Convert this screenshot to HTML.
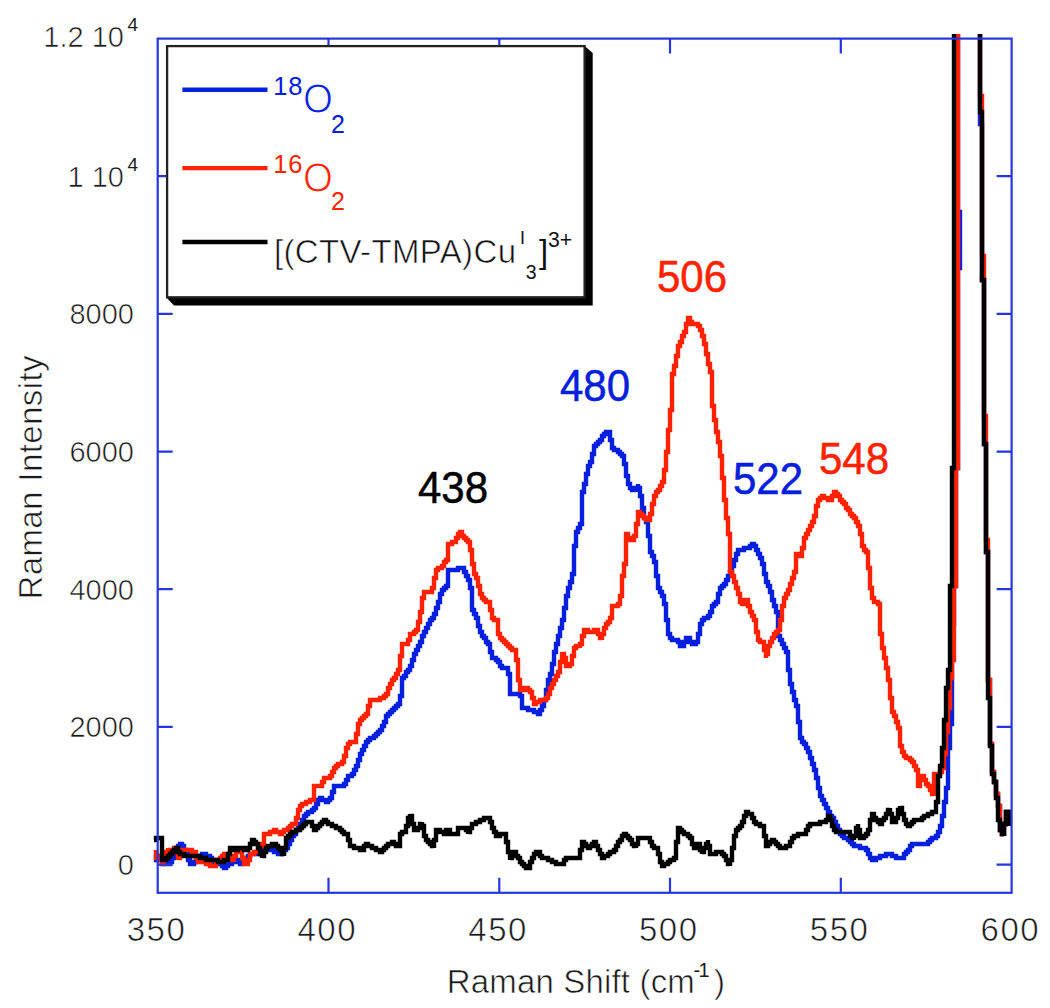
<!DOCTYPE html>
<html><head><meta charset="utf-8"><style>
html,body{margin:0;padding:0;background:#fff;}
body{width:1050px;height:1008px;overflow:hidden;}
svg{display:block;}
text{font-family:"Liberation Sans",sans-serif;}
.tl{font-size:29px;fill:#1a1a1a;stroke:#fff;stroke-width:0.6px;}
.er{stroke:#fff;stroke-width:0.6px;}
.tls{font-size:19px;fill:#1a1a1a;}
.xl{font-size:33px;fill:#1a1a1a;letter-spacing:1.5px;stroke:#fff;stroke-width:0.6px;}
.ann{font-size:42px;stroke-width:0.5px;}
</style></head><body>
<svg width="1050" height="1008" viewBox="0 0 1050 1008">
<rect width="1050" height="1008" fill="#fff"/>
<defs><clipPath id="pc"><rect x="150" y="34" width="862" height="860"/></clipPath></defs>
<g fill="none" stroke-width="4.4" stroke-linejoin="miter" stroke-linecap="butt" clip-path="url(#pc)">
<path d="M156 854V856V858V860H158V858V856H160V854V856V858H162V860V862V864H164H166H168H170V862H172V860V858H174V856V854H176V852V850H178V848V846H180V844H182V846H184V848V850H186V852V854H188V856V858V860H190V862V864H192V866V864H194V862H196V860H198V858H200V856H202V854H204H206V856H208H210V858H212V860H214V862H216H218V864H220H222V866H224V868H226V866H228V864H230H232V862H234H236V860H238V862H240V864H242V862H244V860H246V858H248V856H250V854H252H254H256H258H260V852H262H264V850H266H268V848H270V850H272H274V852H276H278V854H280H282V852H284V850H286V848H288V846V844H290V842V840H292V838V836H294V834H296V832V830H298V828V826H300V824H302V822V820H304V818V816H306V814H308V812H310H312V810H314V808H316V806V804H318V802V800H320V798H322V800H324H326V802H328V800H330V798H332V796V794V792H334V790V788V786H336H338H340H342H344V784H346V782V780H348V778V776H350H352V774H354V772V770H356V768V766H358V764V762V760H360V758V756V754H362V752V750H364V748V746H366V744V742H368V740H370V738H372H374V736H376V734H378V732H380V730H382V728V726H384V724V722H386V720V718V716H388V714H390V712H392V710H394V708H396V706H398V704H400V702V700V698V696H402V694V692V690V688V686V684V682V680V678H404V676H406V674V672H408V670H410V668V666H412V664V662V660H414V658V656V654H416V652V650H418V648V646H420V644V642H422V640V638V636H424V634V632H426V630V628H428V626V624H430V622V620H432V618H434V616V614H436V612V610V608H438V606V604V602H440V600V598V596V594H442V592V590H444V588H446V586H448V584V582V580V578V576V574V572V570H450H452H454H456H458V568H460H462H464V570V572H466V574V576H468V578V580H470V582V584V586V588H472V590V592V594V596V598V600V602V604V606V608V610H474V612V614H476V616V618H478V620V622V624V626H480V628V630V632H482V634V636H484V638H486V640V642H488V644H490V646V648V650V652H492V654V656V658H494H496V660H498V662H500V664V666H502V668H504H506H508V670V672V674H510V676V678V680V682V684V686V688V690V692V694H512H514H516H518H520V696H522V698V700V702V704V706V708H524H526H528V710H530H532H534V712H536H538V714H540V712V710H542V708V706H544V704V702V700H546V698V696V694V692V690H548V688V686V684V682V680H550V678V676V674H552V672V670V668V666V664H554V662V660V658V656V654V652H556V650V648V646V644H558V642V640V638V636H560V634V632V630V628H562V626V624V622V620H564V618V616V614V612V610V608H566V606V604V602V600V598V596H568V594V592V590V588H570V586V584V582H572V580V578V576V574H574V572V570V568V566V564V562V560V558V556V554V552V550V548V546H576V544V542V540V538V536V534V532H578V530V528H580V526V524H582V522V520V518V516V514V512V510V508V506V504V502V500V498V496V494V492H584V490V488V486V484H586V482V480V478V476V474H588V472V470V468V466H590V464V462H592V460V458V456V454H594V452V450V448V446H596V444H598V442H600V440H602V438V436H604V434H606V432H608H610V434V436V438V440H612V442V444V446V448H614V450H616H618V452H620V454H622V456H624V458V460V462V464H626V466V468V470V472V474V476H628V478V480V482V484H630V486V488H632V490H634H636V492V490V488H638V486V484V486V488H640V490V492V494V496H642V498V500V502V504V506V508H644V510V512V514V516V518H646V520V522H648V524V526V528V530V532V534V536H650V538V540V542V544V546V548V550V552H652V554V556H654V558V560V562H656V564V566V568V570V572V574V576H658V578V580V582V584V586V588H660V590V592H662V594V596H664V598V600V602V604H666V606V608V610V612V614V616V618V620H668V622V624V626V628V630V632V634H670V636V638H672V640H674H676H678V642H680V644V646H682V648V646H684V644V642H686V640V638H688V636V638H690V640V642H692V644H694H696V642H698V640V638V636V634H700V632V630V628V626V624H702V622V620H704V618H706H708V616H710V614V612H712V610V608V606H714V604H716V602H718V600V598V596V594H720V592V590V588H722V586H724V584H726V582V580H728V578V576H730V574V572H732V570V568V566H734V564V562V560H736V558V556V554H738V552V550H740H742H744V548H746H748H750V546H752V544H754V546H756V548V550H758V552V554H760V556V558H762V560V562V564H764V566V568V570V572V574H766V576V578V580V582H768V584V586H770V588V590V592H772V594V596V598V600H774V602V604V606H776V608V610V612H778V614V616V618V620V622V624V626V628V630V632V634V636H780V638V640H782V642V644H784V646V648H786V650V652H788V654V656V658V660V662V664V666V668V670H790V672V674V676V678V680V682V684H792V686V688V690V692H794V694V696V698V700H796V702V704V706H798V708V710V712V714V716V718V720V722H800V724V726V728V730V732V734V736V738H802V740V742H804V744H806V746V748H808V750V752H810V754V756V758H812V760V762V764H814V766V768V770H816V772V774V776V778H818V780V782V784V786V788H820V790V792V794V796H822V798V800H824V802V804H826V806V808H828V810V812H830V814V816H832V818H834V820V822H836V824V826H838V828V830H840V832V834H842V836H844V838H846H848V840H850V842H852V844H854V846H856H858H860V848H862H864H866V850H868V852V854H870V856V858H872V860H874H876V858H878H880V856H882H884H886V854H888H890H892V856H894H896V858H898H900H902H904V856V854H906V852H908V850H910V848V846H912V844H914H916H918H920H922H924H926H928V842H930V840H932V838H934H936V836H938V834V832H940V830V828V826H942V824V822V820V818V816H944V814V812V810V808V806V804V802H946V800V798V796V794V792V790V788H948V786V784V782V780V778V776V774V772V770V768V766V764V762V760V758V756V754V752V750V748H950V746V744V742V740V738V736V734V732V730V728V726V724H952V722V720V718V716V714V712V710V708V706V704V702V700V698V696V694V692V690V688V686V684V682V680V678V676V674V672V670V668V666V664V662V660V658V656V654V652V650V648V646V644V642V640V638V636V634V632V630V628V626V624H954V622V620V618V616V614V612V610V608V606V604V602V600V598V596V594V592V590V588V586H956V584V582V580V578V576V574V572V570V568V566V564V562V560V558V556V554V552V550V548V546V544V542V540V538V536V534V532V530V528V526V524V522V520V518V516V514V512V510V508V506V504V502V500V498V496V494V492V490V488V486V484V482V480V478V476V474V472V470V468H958V466V464V462V460V458V456V454V452V450V448V446V444V442V440V438V436V434V432V430V428V426V424V422V420V418V416V414V412V410V408V406V404V402V400V398V396V394V392V390V388V386V384V382V380V378V376V374V372V370V368V366V364V362V360V358V356V354V352V350V348V346V344V342V340V338V336V334V332V330V328V326V324V322V320V318V316V314V312V310V308V306V304V302V300V298V296V294V292V290V288V286V284V282V280V278V276V274V272V270V268H960V266V264V262V260V258V256V254V252V250V248V246V244V242V240V238V236V234V232V230V228V226V224V222V220V218V216V214V212H958V210V208V206V204V202V200V198V196V194V192V190V188V186V184V182V180V178V176V174V172V170V168V166V164V162V160V158V156V154V152V150V148V146V144V142V140V138V136V134V132V130V128V126V124V122V120V118V116V114V112V110V108V106V104V102V100V98V96V94V92V90V88V86V84V82V80V78V76V74V72V70V68V66V64V62V60V58V56V54V52V50V48V46V44V42V40V38V36V34V32V30H960H962H964H966H968H970H972H974H976H978H980V32V34V36V38V40V42V44V46V48V50V52V54V56V58V60V62V64V66V68V70V72V74V76V78V80V82V84V86V88V90V92V94V96V98V100V102V104V106V108V110V112V114V116V118V120V122V124H982V126V128V130V132V134V136V138V140V142V144V146V148V150V152V154V156V158V160V162V164V166V168V170V172V174V176V178V180V182V184V186V188V190V192V194V196V198V200V202V204V206V208V210V212V214V216V218V220V222V224V226V228V230V232V234V236V238V240V242V244V246V248V250V252V254V256V258V260V262V264V266V268V270V272V274V276V278V280H984V282V284V286V288V290V292V294V296V298V300V302V304V306V308V310V312V314V316V318V320V322V324V326V328V330V332V334V336V338V340V342V344V346V348V350V352V354V356V358V360V362V364V366V368V370V372V374V376V378V380V382V384V386V388V390V392V394V396V398V400V402V404V406V408V410V412V414V416V418V420V422V424V426V428V430V432V434V436V438V440V442V444H986V446V448V450V452V454V456V458V460V462V464V466V468V470V472V474V476V478V480V482V484V486V488V490V492V494V496V498V500V502V504V506V508V510V512V514V516V518V520V522V524V526V528V530V532V534V536V538V540V542V544V546V548V550V552H988V554V556V558V560V562V564V566V568V570V572V574V576V578V580V582V584V586V588V590V592V594V596V598V600V602V604V606V608V610V612V614V616V618V620V622V624V626V628V630V632V634V636V638V640V642V644V646V648V650V652V654V656V658V660V662V664V666V668V670V672V674V676V678V680H990V682V684V686V688V690V692V694V696V698V700V702V704V706V708V710V712V714V716V718V720V722V724V726V728V730V732V734V736V738V740V742V744H992V746V748V750V752V754V756V758V760V762V764V766V768V770V772H994V774V776V778V780V782H996V784V786V788V790V792V794H998V796V798V800V802V804V806H1000V808V810V812V814V816V818V820V822V824V826V828V830H1002V832V834H1004V836V834V832V830V828V826V824H1006V822V820V818V816V814V812H1008H1010V814V816V818V820V822V824V826" stroke="#0520dc"/>
<path d="M156 850V852V854V856V858H158V856H160V854V856V858V860H162V862V864V866V864H164V862V860V858H166V856V854V852H168V850V848V850H170V852V854H172V852V850H174V848H176V846V848V850V852H178V854V856V858V860V858H180V856V854H182V852V850H184H186H188H190H192V852H194H196V854V856V858H198V860V862H200H202H204H206V864H208H210V866H212H214V868V866H216V864V862H218V860H220V858H222V856H224V854H226H228V852V854V856H230V858V860H232H234V862V860V858V856H236V854V852V850H238V852H240H242V854V856V858H244V860V862V864H246H248V862V860H250V858V856V854H252H254V852H256H258V850H260V848V846H262V844H264V842V840V838V836V834H266H268H270V832H272H274V830H276V832H278H280V834H282V832H284V830H286H288V828H290V826H292V824H294H296V822V820V818H298V816V814V812V810H300V808V806H302V804H304H306V802H308H310V800H312H314V798V796V794V792V790V788V786H316H318H320H322V784V782H324V780V778H326H328H330V776H332V774V772H334V770V768H336V766H338V764H340H342V762H344V760V758V756H346V754V752V750V748H348V746V744H350V742H352H354H356V740V738V736V734H358V732V730V728V726V724H360V722V720H362V718H364V716H366V714H368V712V710V708V706H370V704V702V700H372H374H376H378H380V698H382H384V696H386V694H388V692V690V688H390V686V684H392V682V680H394V678H396V676V674H398V672V670H400V668V666V664V662V660V658V656H402V654V652V650V648V646V644H404H406H408V642V640H410V638V636V634H412H414V632H416V630H418V628V626V624V622H420V620V618V616V614V612H422V610V608V606V604V602V600V598H424V596V594V592H426H428H430H432V590V588H434V586V584V582V580V578H436V576V574V572V570H438V568H440H442V566H444V564V562H446V560H448V558V556V554V552V550V548V546V544H450H452V542H454H456V540V538H458V536V534H460V532H462V534V536H464V538H466V540H468V542H470V544V546V548V550H472V552V554V556V558V560V562V564H474V566V568V570V572V574H476V576V578H478V580V582V584V586H480V588V590V592V594H482V596V598H484V600H486V602H488H490V604V606V608V610H492V612V614V616V618H494V620H496H498V622V624V626V628V630V632V634H500V636V638H502V640H504V642H506V644H508V646H510V648H512V650H514H516V652V654V656V658V660H518V662V664V666V668V670V672V674V676V678V680H520V682V684V686V688V690H522H524V688H526H528V690H530V692H532V694V696V698H534V700V702V704H536V702H538H540V700H542H544H546V698H548V696V694H550V692V690V688H552V686V684H554V682V680H556V678V676H558V674V672H560V670V668V666V664V662H562V660V658V656V654V652V654H564V656V658H566V660V662V664V666H568H570V664H572V662V660V658V656H574V654V652V650V648H576V646H578V644V646H580V648V646V644H582V642V640V638V636H584V634V632V630H586H588V632H590H592H594V630H596H598V632V634H600V636V638H602V640V638V636V634H604V632V630V628H606V626V624H608V622H610V620V618H612V616V614V612V610V608V606H614H616H618V604H620V602V600V598V596H622V594V592V590V588V586V584V582V580V578V576H624V574V572V570V568V566V564H626V562V560V558V556V554V552V550V548V546V544V542V540V538V536V534H628V536V538H630V540H632V542V540H634V538V536H636V534V532V530V528V526V524H638V522V520V518V516V514V512H640V514H642V516H644V518H646V520H648V522V520H650V518V516V514H652V512V510V508V506V504H654V502V500V498V496H656V494V492H658V490H660V488V486H662V484V482H664V480V478V476V474V472V470H666V468V466V464V462V460V458V456V454V452H668V450V448V446V444V442V440V438V436V434V432V430H670V428V426V424V422V420V418V416V414V412V410H672V408V406V404V402V400V398V396V394V392V390V388V386V384V382V380V378V376V374H674V372V370V368V366H676V364V362V360V358V356H678V354V352V350V348V346H680V344V342H682V340V338V336H684V334V332H686V330V328V326V324H688V322V320V318H690V320V322H692V324H694H696H698V326H700V328V330H702V332V334V336H704V338V340V342V344H706V346V348V350V352V354H708V356V358V360V362V364H710V366V368V370V372H712V374V376V378V380V382V384V386V388V390V392V394V396V398V400V402V404V406H714V408V410V412V414V416V418V420H716V422V424V426V428V430V432H718V434V436V438V440V442H720V444V446V448V450V452V454V456H722V458V460V462V464V466V468V470V472V474V476V478H724V480V482V484V486V488V490V492V494V496V498V500H726V502V504V506V508V510V512V514V516V518H728V520V522V524V526V528V530V532V534H730V536V538V540V542V544V546V548V550V552V554V556V558V560V562V564V566V568V570V572H732V574V576H734V578V580V582H736V584V586V588H738V590V592V594H740V596V598V600V602H742V604V606V604H744V602V600H746V598V600H748V602V604V606H750V608V610V612H752V614V616H754V618V620H756V622V624V626V628V630V632H758V634V636V638V640H760V642H762H764V644V646V648V650H766V652V654V656V658V656V654H768V652V650V648V646H770V644V642H772V640V638H774V636V634H776V632H778V630H780V628V626V624V622V620H782V618V616V614V612V610V608V606H784V604V602V600V598H786V596V594H788V592V590H790V588V586V584H792V582V580V578H794V576V574V572H796V570V568V566V564V562V560V558V556V554H798H800V556H802V554V552V550V548H804V546V544V542V540V538H806V536V534H808V532V530H810V528V526H812V524V522H814V520V518V516H816V514V512V510V508V506H818V504V502V500H820V498H822V496H824V498H826H828V500H830H832V498V496H834V494V492H836V494H838V496H840V498V500H842V502H844V504H846V506V508H848V510H850V512V514H852V516H854V518H856V520V522H858V524V526H860V528V530V532V534H862V536V538V540V542V544V546H864V548V550H866V552H868V554V556V558V560V562V564V566V568H870V570V572V574V576V578V580V582V584V586V588H872V590V592V594V596V598H874V600V602H876H878V604H880V606V608V610V612V614V616V618V620V622V624V626V628V630V632V634H882V636V638V640V642V644V646V648H884V650V652V654V656V658H886V660V662V664V666V668H888V670V672V674V676V678V680H890V682V684V686V688V690V692V694V696V698H892V700V702V704V706V708V710V712H894V714V716H896V718V720V722H898V724V726V728H900V730V732V734V736V738V740V742V744V746H902V748V750V752H904V754V756H906V758H908H910V760H912V762H914V764V766H916V768V770H918V772V774V776V778V780V782V784V786V788V786H920V784V782V780H922V778V776H924V778V780H926V782V784H928V786H930V788V790H932V792V794H934V796V794V792V790V788V786V784V782V780V778V776V774H936H938H940V772H942V770V768H944V766V764V762V760V758V756V754H946V752V750V748V746V744V742V740V738V736V734V732H948V730V728V726V724V722V720V718V716V714V712V710V708H950V706V704V702V700V698V696V694V692V690V688V686V684V682V680V678H952V676V674V672V670V668V666V664V662V660H954V658V656V654V652V650V648V646V644V642V640V638V636V634V632V630V628V626V624V622V620V618V616V614V612V610V608V606V604V602V600V598V596V594V592V590V588V586H956V584V582V580V578V576V574V572V570V568V566V564V562V560V558V556V554V552V550V548V546V544V542V540V538V536V534V532V530V528V526V524V522V520V518V516V514V512V510V508V506V504V502V500V498V496V494V492V490V488V486V484V482V480V478V476V474V472V470V468H958V466V464V462V460V458V456V454V452V450V448V446V444V442V440V438V436V434V432V430V428V426V424V422V420V418V416V414V412V410V408V406V404V402V400V398V396V394V392V390V388V386V384V382V380V378V376V374V372V370V368V366V364V362V360V358V356V354V352V350V348V346V344V342V340V338V336V334V332V330V328V326V324V322V320V318V316V314V312V310V308V306V304V302V300V298V296V294V292V290V288V286V284V282V280V278V276V274V272V270V268V266V264V262V260V258V256V254V252V250V248V246V244V242V240V238V236V234V232V230V228V226V224V222V220V218V216V214V212V210V208V206V204V202V200V198V196V194V192V190V188V186V184V182V180V178V176V174V172V170V168V166V164V162V160V158V156V154V152V150V148V146V144V142V140V138V136V134V132V130V128V126V124V122V120V118V116V114V112V110V108V106V104V102V100V98V96V94V92V90V88V86V84V82V80V78V76V74V72V70V68V66V64V62V60V58V56V54V52V50V48V46V44V42V40V38V36V34V32V30H960H962H964H966H968H970H972H974H976H978H980V32V34V36V38V40V42V44V46V48V50V52V54V56V58V60V62V64V66V68V70V72V74V76V78V80V82V84V86V88V90V92V94V96H982V98V100V102V104V106V108V110V112V114V116V118V120V122V124V126V128V130V132V134V136V138V140V142V144V146V148V150V152V154V156V158V160V162V164V166V168V170V172V174V176V178V180V182V184V186V188V190V192V194V196V198V200V202V204V206V208V210V212V214V216V218V220V222V224V226V228V230V232V234V236V238V240V242V244V246V248V250V252V254V256H984V258V260V262V264V266V268V270V272V274V276V278H982V280H984V282V284V286V288V290V292V294V296V298V300V302V304V306V308V310V312V314V316V318V320V322V324V326V328V330V332V334V336V338V340V342V344V346V348V350V352V354V356V358V360V362V364V366V368V370V372V374V376V378V380V382V384V386V388V390V392V394V396V398V400V402V404V406V408V410V412V414V416H986V418V420V422V424V426V428V430V432V434V436V438V440V442V444V446V448V450V452V454V456V458V460V462V464V466V468V470V472V474V476V478V480V482V484V486V488V490V492V494V496V498V500V502V504V506V508V510V512V514V516V518V520V522V524V526V528V530V532V534V536V538V540H988V542V544V546V548V550V552V554V556V558V560V562V564V566V568V570V572V574V576V578V580V582V584V586V588V590V592V594V596V598V600V602V604V606V608V610V612V614V616V618V620V622V624V626V628V630V632V634V636V638V640V642V644V646V648V650V652V654V656V658V660V662V664V666V668V670V672V674V676V678V680H990V682V684V686V688V690V692V694V696V698V700V702V704V706V708V710V712V714V716V718V720V722V724V726V728V730V732V734V736V738V740V742V744H992V746V748V750V752V754V756V758V760V762V764V766V768V770V772H994V774V776V778V780V782H996V784V786V788V790V792V794H998V796V798V800V802V804V806H1000V808V810V812V814V816V818V820V822V824V826V828V830H1002V832V834H1004V836V834V832V830V828V826V824H1006V822V820V818V816V814V812H1008H1010V814V816V818V820V822V824V826" stroke="#ff2200"/>
<path d="M154 840H156V838H158H160V836V838H162V840V842V844V846V848V850V852V854V856V858V860H164H166V858H168V856H170V854H172V852H174V850H176V848H178V850V852H180V854H182H184V856H186H188H190H192H194H196H198H200V858H202H204H206V860H208H210H212H214H216H218V862H220H222H224V860H226H228V858V856V854H230V852V850V848H232H234V850H236H238V848H240H242V846V848H244V850H246H248V848H250V846V844H252V842V840H254V842H256V844H258V846V848H260V850V852V854H262V856V858V856H264V854V852H266V850V848H268V846H270H272V844H274H276V846H278V848H280V850H282V852V854H284V856V854V852V850V848H286V846V844V842V840V838H288V836H290V834H292V832H294H296V830H298H300V828H302V826H304V824H306V822H308H310V820V822H312V824V826H314V828V830H316V828H318V826H320V824H322V822H324V820H326V822H328V824H330H332V826H334H336V828H338H340V830H342V832H344V834H346H348V836V838V840H350V842V844V846H352H354V848H356H358H360V850H362H364V848V846H366V844H368V846H370H372V848H374H376V850H378H380V852H382V850H384V848H386V846H388V844H390H392V842H394V844H396V846H398H400V844V842V840V838V836V834H402V832H404H406V830V828V826H408V824V822V820V818H410V816V814V816H412V818V820V822V824H414V826V828V830H416H418V828H420V826V824H422V822V824V826H424V828V830V832V834V836H426V838V840H428V842H430V844H432V846H434V848V846V844V842V840H436V838V836V834V832V830H438H440V832H442H444V834H446V832V830H448V828V830H450V832V834H452H454H456H458V832V830V828H460H462H464H466V830H468V832V834V832H470V830V828H472V826V824H474H476V822H478H480V820H482H484V818H486H488V816V818H490V820V822H492V824V826V828H494V830V832H496V834V836H498H500V834H502H504V832V834H506V836V838V840V842H508V844V846V848V850V852H510V854V856V858V860V858H512V856V854H514V852H516V854V856H518V858H520V860V862H522V864H524V866H526V868H528V870V868H530V866V864V862H532V860V858H534V856V854H536V852H538V850V852H540V854V856H542V858H544H546H548V860H550H552V862H554H556V864H558H560H562H564V862V860H566V858H568H570H572H574H576H578H580V856V854V852V850H582V848V846V844V842H584V844H586V846H588V848H590V846H592V844H594V842H596V844V846H598V848V850H600V852V854H602V856V858H604V856H606H608V854H610V852H612H614V850H616V848V846H618V844V842H620V840H622V838V836H624V834H626V836H628V838H630V840H632V842V844H634V846H636V848V846V844H638V842V840V838H640H642H644H646H648H650V840V842H652V844V846H654V848H656H658V850V852V854H660V856V858V860V862H662V864V866H664V864H666H668V862H670V860H672H674V858H676V856V854V852V850V848V846V844V842H678V840V838V836V834V832V830V828H680V830H682V832H684V834H686H688V836H690V838H692V840V842V844H694V846V848H696V846V844H698V842V844H700V846V848V850H702V852V854V852H704V850V848H706V846V844H708V842V840V842V844V846H710V848V850V852V854H712H714H716V852H718H720H722V854H724V856H726V858V860H728V862V864H730V866V864V862V860H732V858V856V854V852V850V848H734V846V844V842V840V838V836H736V834V832V830H738V828H740V826H742V824V822H744V820V818V816H746V814V812H748V814H750H752V816V818H754V820V822H756V824H758H760V826H762H764V828V830V832V834V836H766V838V840V842V844V846H768V844H770V842H772V840H774V842H776V844H778V846H780V848H782H784H786V846H788H790V844V842H792V840V838H794V836H796H798V834H800H802H804H806V832V830H808V828V826H810V824H812H814H816H818H820V822H822H824H826V820H828V818V816H830V814V816V818V820H832V822V824V826H834V828V830H836V832H838H840H842H844H846H848H850V834V836H852V838H854V840V838V836H856V834V832V830V828H858V826V824V826V828V830H860V832V834V836V838H862H864V836H866V834H868V832V830H870V828V826V824V822V820H872V818V816V814H874V816V818H876V820H878V822H880V824H882V822V820H884V818H886V816V814H888V812V810H890V808V810V812V814H892V816V818V820V822H894H896V820V818H898V816V814V812V810H900V808V806V808H902V810V812V814H904V816V818V820H906V822V824H908V826H910V824H912V822H914V820H916H918H920H922V818H924V816H926H928V814H930H932V812H934H936V810V808V806V804V802H938V800V798V796V794V792V790V788V786V784V782V780V778V776H940V774V772V770V768V766H942V764V762V760V758V756V754V752V750V748H944V746V744V742V740V738V736V734V732V730V728V726V724V722V720H946V718V716V714V712V710V708V706V704V702V700V698V696V694V692V690V688H948V686V684V682V680V678V676V674V672V670H950V668V666V664V662V660V658V656V654V652V650V648V646V644V642V640V638V636V634V632V630V628V626V624V622V620V618V616V614V612V610V608V606V604V602V600V598V596V594V592V590V588V586H952V584V582V580V578V576V574V572V570V568V566V564V562V560V558V556V554V552V550V548V546V544V542V540V538V536V534V532V530V528V526V524V522V520V518V516V514V512V510V508V506V504V502V500V498V496V494V492V490V488V486V484V482V480V478V476V474V472V470V468H954V466V464V462V460V458V456V454V452V450V448V446V444V442V440V438V436V434V432V430V428V426V424V422V420V418V416V414V412V410V408V406V404V402V400V398V396V394V392V390V388V386V384V382V380V378V376V374V372V370V368V366V364V362V360V358V356V354V352V350V348V346V344V342V340V338V336V334V332V330V328V326V324V322V320V318V316V314V312V310V308V306V304V302V300V298V296V294V292V290V288V286V284V282V280V278V276V274V272V270V268V266V264V262V260V258V256V254V252V250V248V246V244V242V240V238V236V234V232V230V228V226V224V222V220V218V216V214V212V210V208V206V204V202V200V198V196V194V192V190V188V186V184V182V180V178V176V174V172V170V168V166V164V162V160V158V156V154V152V150V148V146V144V142V140V138V136V134V132V130V128V126V124V122V120V118V116V114V112V110V108V106V104V102V100V98V96V94V92V90V88V86V84V82V80V78V76V74V72V70V68V66V64V62V60V58V56V54V52V50V48V46V44V42V40V38V36V34V32V30H956H958H960H962H964H966H968H970H972H974H976H978H980V32V34V36V38V40V42V44V46V48V50V52V54V56V58V60V62V64V66V68V70V72V74V76V78V80V82V84V86V88V90V92V94V96V98V100V102V104V106V108V110V112H982V114V116V118V120V122V124V126V128V130V132V134V136V138V140V142V144V146V148V150V152V154V156V158V160V162V164V166V168V170V172V174V176V178V180V182V184V186V188V190V192V194V196V198V200V202V204V206V208V210V212V214V216V218V220V222V224V226V228V230V232V234V236V238V240V242V244V246V248V250V252V254V256V258V260V262V264V266V268V270V272V274V276V278V280H984V282V284V286V288V290V292V294V296V298V300V302V304V306V308V310V312V314V316V318V320V322V324V326V328V330V332V334V336V338V340V342V344V346V348V350V352V354V356V358V360V362V364V366V368V370V372V374V376V378V380V382V384V386V388V390V392V394V396V398V400V402V404V406V408V410V412V414V416V418V420V422V424V426V428V430V432V434V436V438V440V442V444H986V446V448V450V452V454V456V458V460V462V464V466V468V470V472V474V476V478V480V482V484V486V488V490V492V494V496V498V500V502V504V506V508V510V512V514V516V518V520V522V524V526V528V530V532V534V536V538V540V542V544V546V548V550V552H988V554V556V558V560V562V564V566V568V570V572V574V576V578V580V582V584V586V588V590V592V594V596V598V600V602V604V606V608V610V612V614V616V618V620V622V624V626V628V630V632V634V636V638V640V642V644V646V648V650V652V654V656V658V660V662V664V666V668V670V672V674V676V678V680V682V684V686V688V690V692V694V696V698H990V700V702V704V706V708V710V712V714V716V718V720V722V724V726V728V730V732V734V736V738V740V742V744V746H992V748V750V752V754V756V758V760V762V764V766V768V770V772V774H994V776V778V780V782H996V784V786V788V790V792V794V796V798H998V800V802V804V806V808V810V812V814V816V818V820H1000V822V824V826V828V830H1002V832V834H1004V836V834V832V830V828V826V824H1006V822V820V818V816V814V812H1008H1010V810V812V814V816V818V820V822V824V826" stroke="#000"/>
</g>
<g fill="none" stroke="#2536e0" stroke-width="2.2">
<rect x="157.7" y="38.6" width="853.9" height="854.2"/>
<path d="M328.5 892.8 V877.8 M328.5 38.6 V53.6 M499.3 892.8 V877.8 M499.3 38.6 V53.6 M670.0 892.8 V877.8 M670.0 38.6 V53.6 M840.8 892.8 V877.8 M840.8 38.6 V53.6 M157.7 864.6 H172.7 M1011.6 864.6 H996.6 M157.7 726.9 H172.7 M1011.6 726.9 H996.6 M157.7 589.2 H172.7 M1011.6 589.2 H996.6 M157.7 451.6 H172.7 M1011.6 451.6 H996.6 M157.7 313.9 H172.7 M1011.6 313.9 H996.6 M157.7 176.2 H172.7 M1011.6 176.2 H996.6"/>
</g>
<!-- legend -->
<path d="M583.5 45 L592.7 53 L592.7 305.4 L174 305.4 L166 297 Z" fill="#000"/>
<rect x="167.1" y="46.1" width="417.5" height="251.2" fill="#fff" stroke="#222" stroke-width="2.3"/>
<g stroke-width="4.4">
<path d="M182.4 89.8 H267.5" stroke="#0520dc"/>
<path d="M182.4 168.1 H267.5" stroke="#ff2200"/>
<path d="M182.4 242 H267.5" stroke="#000"/>
</g>
<text x="273.3" y="94.6" font-size="25.5" letter-spacing="0.8" fill="#0520dc">18</text>
<text transform="translate(303 112.8) scale(1 1.08)" font-size="38.5" fill="#0520dc" stroke="#fff" stroke-width="0.9">O</text>
<text x="331" y="132.5" font-size="25" fill="#0520dc">2</text>
<text x="273.3" y="172.8" font-size="25.5" letter-spacing="0.8" fill="#ff2200">16</text>
<text transform="translate(303 191.6) scale(1 1.08)" font-size="38.5" fill="#ff2200" stroke="#fff" stroke-width="0.9">O</text>
<text x="331" y="210" font-size="25" fill="#ff2200">2</text>
<text class="er" x="274" y="262.7" font-size="33" fill="#111" textLength="242" lengthAdjust="spacing">[(CTV-TMPA)Cu</text>
<text x="520" y="244" font-size="18" fill="#111">I</text>
<text x="525.8" y="279" font-size="19.5" fill="#111">3</text>
<text x="539" y="262.7" font-size="33" fill="#111">]</text>
<text x="548" y="246.6" font-size="21.2" fill="#111">3+</text>
<!-- annotations -->
<text transform="translate(418.0 502.8) scale(1 1.06)" class="ann" fill="#000" stroke="#000">438</text>
<text transform="translate(560.0 400.9) scale(1 1.06)" class="ann" fill="#0520dc" stroke="#0520dc">480</text>
<text transform="translate(657.0 291.8) scale(1 1.06)" class="ann" fill="#ff2200" stroke="#ff2200">506</text>
<text transform="translate(733.0 493.5) scale(1 1.06)" class="ann" fill="#0520dc" stroke="#0520dc">522</text>
<text transform="translate(819.0 474.1) scale(1 1.06)" class="ann" fill="#ff2200" stroke="#ff2200">548</text>
<text x="134" y="875.1" text-anchor="end" class="tl">0</text><text x="134" y="737.4" text-anchor="end" class="tl">2000</text><text x="134" y="599.8" text-anchor="end" class="tl">4000</text><text x="134" y="462.1" text-anchor="end" class="tl">6000</text><text x="134" y="324.4" text-anchor="end" class="tl">8000</text><text x="124" y="187" text-anchor="end" class="tl">1 10</text><text x="127.5" y="170.6" class="tls">4</text><text x="124" y="47" text-anchor="end" class="tl">1.2 10</text><text x="127.5" y="30.6" class="tls">4</text>
<text x="156.5" y="941.3" text-anchor="middle" class="xl">350</text><text x="327.3" y="941.3" text-anchor="middle" class="xl">400</text><text x="498.1" y="941.3" text-anchor="middle" class="xl">450</text><text x="668.8" y="941.3" text-anchor="middle" class="xl">500</text><text x="839.6" y="941.3" text-anchor="middle" class="xl">550</text><text x="1010.4" y="941.3" text-anchor="middle" class="xl">600</text>
<text class="er" x="446.8" y="993.3" font-size="33" fill="#1a1a1a" textLength="248" lengthAdjust="spacing">Raman Shift (cm</text>
<text x="693.5" y="976.5" font-size="20" fill="#1a1a1a" textLength="16" lengthAdjust="spacing">-1</text>
<text class="er" x="714" y="993.3" font-size="33" fill="#1a1a1a">)</text>
<text class="er" transform="translate(42.4 599.5) rotate(-90)" font-size="33" fill="#1a1a1a" textLength="244" lengthAdjust="spacing">Raman Intensity</text>
</svg>
</body></html>
